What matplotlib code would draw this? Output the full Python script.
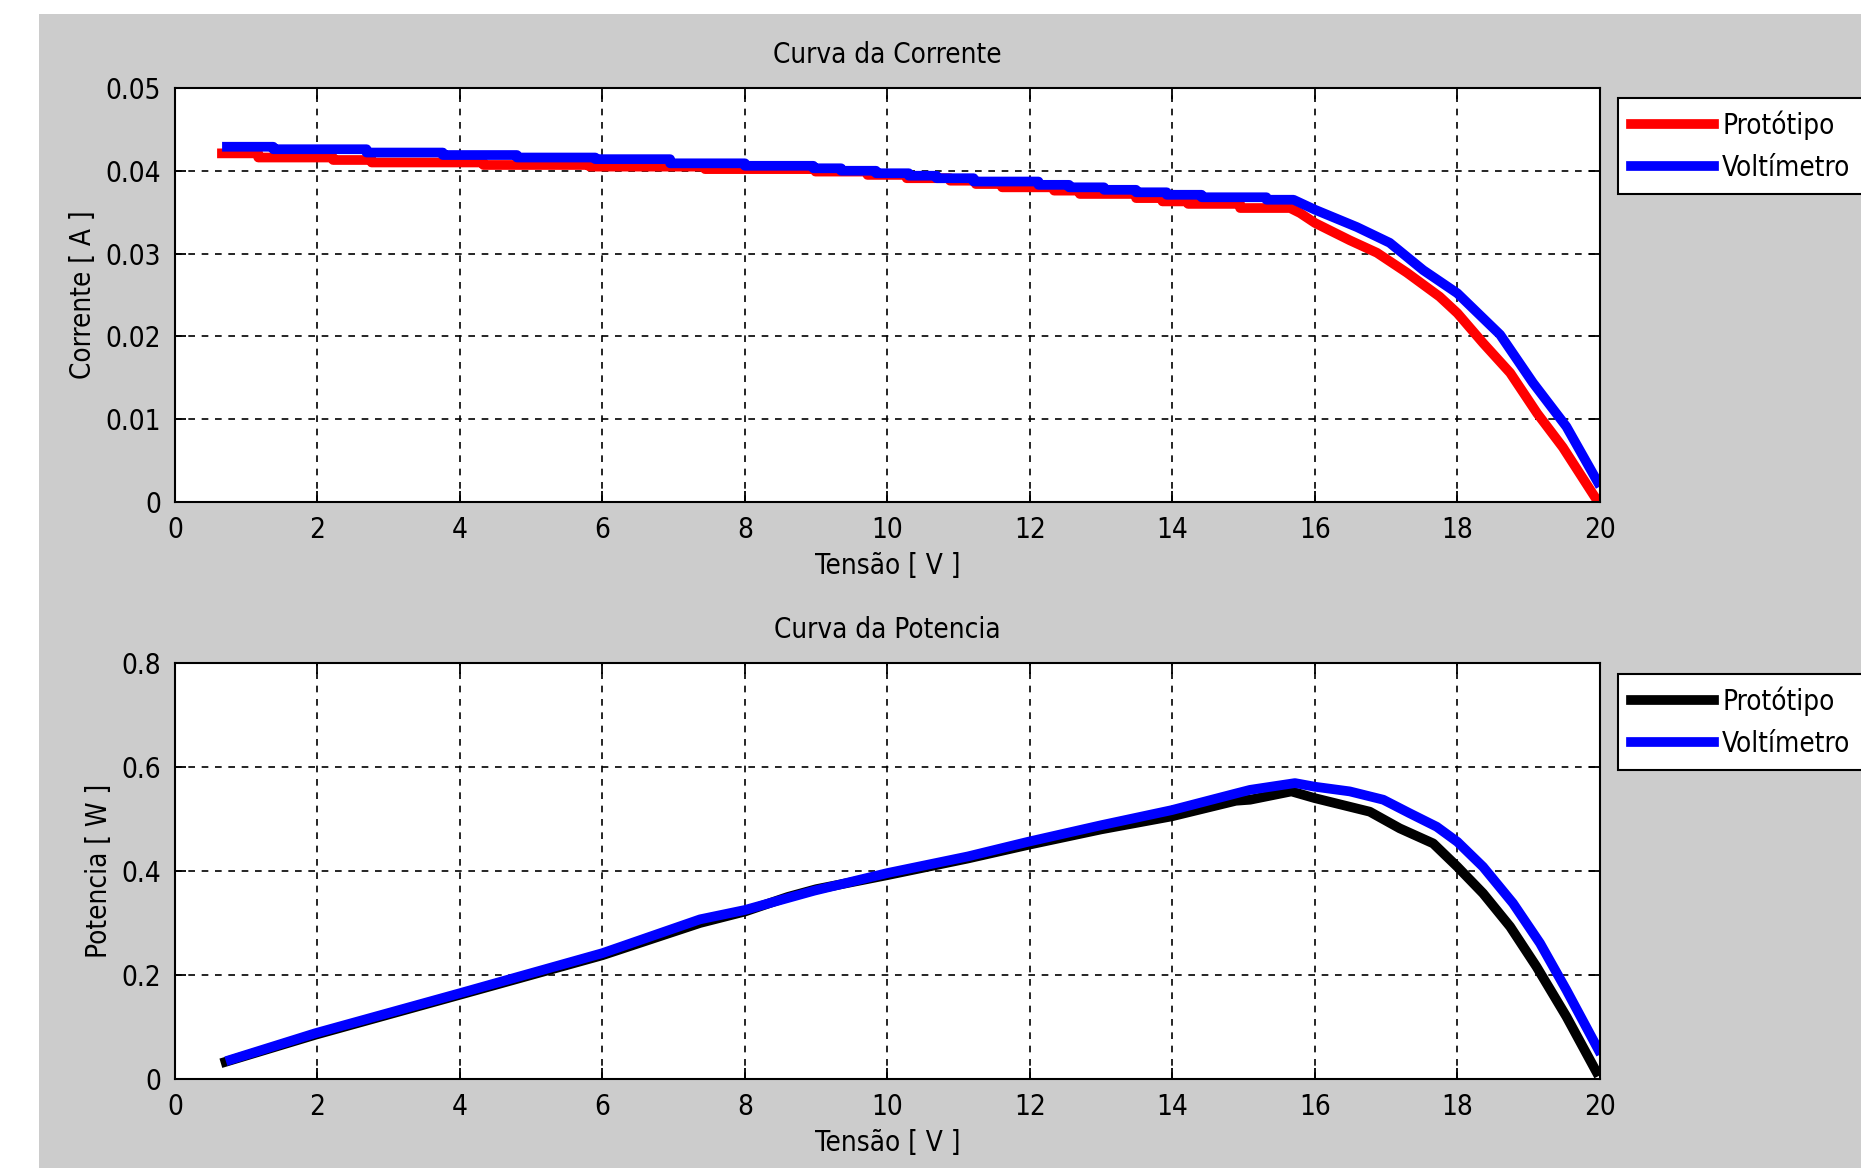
import numpy as np
import matplotlib
matplotlib.use("Agg")
import matplotlib.pyplot as plt
from matplotlib.patches import Rectangle
from matplotlib.ticker import FormatStrFormatter

plt.rcParams["font.family"] = ["Liberation Sans Narrow", "DejaVu Sans"]
plt.rcParams["font.stretch"] = "condensed"
plt.rcParams["font.size"] = 20
plt.rcParams["axes.titlesize"] = "medium"

# --- Corrente: plateau read as steps (edges + levels), then the knee
prot_step_v = [0.66, 1.17, 2.22, 2.76, 4.33, 5.82, 7.44, 8.99, 9.72, 10.27, 10.88,
               11.24, 11.61, 12.34, 12.70, 13.49, 13.86, 14.22, 14.95, 15.65]
prot_step_i = [0.0421, 0.0416, 0.0413, 0.0410, 0.0407, 0.0405, 0.0402, 0.0399, 0.0395,
               0.0391, 0.0388, 0.0384, 0.0380, 0.0376, 0.0372, 0.0367, 0.0363, 0.0360, 0.0355]
prot_knee_v = [15.79, 16.0, 16.49, 16.87, 17.29, 17.75, 18.0, 18.36, 18.74, 19.12, 19.48, 19.96]
prot_knee_i = [0.0349, 0.0337, 0.0316, 0.0301, 0.0277, 0.0248, 0.0228, 0.0192, 0.0156,
               0.0107, 0.0066, 0.0002]

volt_step_v = [0.73, 1.38, 2.69, 3.76, 4.8, 5.9, 6.95, 8.0, 8.96, 9.35, 9.84, 10.30,
               10.69, 11.21, 12.12, 12.55, 13.04, 13.49, 13.92, 14.41, 15.32, 15.7]
volt_step_i = [0.0429, 0.0426, 0.0422, 0.0419, 0.0416, 0.0414, 0.0409, 0.0406, 0.0403,
               0.0400, 0.0397, 0.0394, 0.0391, 0.0387, 0.0383, 0.0380, 0.0377, 0.0374,
               0.0371, 0.0368, 0.0365]
volt_knee_v = [16.0, 16.59, 17.05, 17.52, 18.0, 18.6, 19.06, 19.53, 19.97]
volt_knee_i = [0.0353, 0.0332, 0.0313, 0.0280, 0.0252, 0.0202, 0.0144, 0.0091, 0.0024]

# --- Potencia
prot_pot_v = [0.71, 1.97, 4.0, 6.0, 7.37, 8.0, 8.6, 9.0, 10.0, 11.13, 11.97, 13.0, 13.99,
              14.89, 15.09, 15.67, 16.0, 16.77, 17.19, 17.66, 18.0, 18.36, 18.74, 19.11,
              19.53, 19.95]
prot_pot_p = [0.033, 0.085, 0.162, 0.238, 0.300, 0.322, 0.350, 0.365, 0.392, 0.424, 0.450,
              0.480, 0.505, 0.535, 0.537, 0.553, 0.540, 0.514, 0.482, 0.453, 0.408, 0.357,
              0.293, 0.216, 0.120, 0.014]
volt_pot_v = [0.78, 1.97, 4.0, 6.0, 7.37, 8.0, 8.97, 10.0, 11.13, 11.97, 13.0, 13.99, 14.89,
              15.09, 15.72, 16.0, 16.49, 16.96, 17.33, 17.71, 18.0, 18.36, 18.78, 19.16,
              19.53, 19.98]
volt_pot_p = [0.037, 0.088, 0.165, 0.242, 0.307, 0.325, 0.362, 0.396, 0.428, 0.456, 0.488,
              0.517, 0.549, 0.556, 0.569, 0.562, 0.553, 0.537, 0.511, 0.485, 0.456, 0.408,
              0.338, 0.261, 0.171, 0.056]

labels = ["Protótipo", "Voltímetro"]
x_ticks = np.arange(0, 21, 2)


def stairs(edges, levels):
    xs = np.repeat(edges, 2)[1:-1]
    ys = np.repeat(levels, 2)
    return xs, ys


def style_axes(ax, title, ylabel):
    ax.set_xlim(0, 20)
    ax.set_xticks(x_ticks)
    ax.set_title(title, pad=18)
    ax.set_xlabel("Tensão [ V ]", labelpad=6)
    ax.set_ylabel(ylabel, labelpad=6)
    ax.yaxis.set_major_formatter(FormatStrFormatter("%g"))
    ax.tick_params(direction="in", length=8, width=1.3, top=True, right=True, pad=10)
    ax.grid(True, color="black", linestyle=(0, (4, 4)), linewidth=1.2)
    for s in ax.spines.values():
        s.set_linewidth(1.5)


fig = plt.figure(figsize=(18.61, 11.68), dpi=100, facecolor="white")
fig.patches.append(Rectangle((39 / 1861, 0), 1, 1 - 14 / 1168, transform=fig.transFigure,
                             facecolor="#cccccc", edgecolor="none", zorder=-10))

ax1 = fig.add_axes([0.0940, 0.5702, 0.7657, 0.3545])
x, y = stairs(prot_step_v, prot_step_i)
ax1.plot(np.concatenate([x, prot_knee_v]), np.concatenate([y, prot_knee_i]),
         color="red", lw=7, label=labels[0])
x, y = stairs(volt_step_v, volt_step_i)
ax1.plot(np.concatenate([x, volt_knee_v]), np.concatenate([y, volt_knee_i]),
         color="blue", lw=7, label=labels[1])
ax1.set_ylim(0, 0.05)
ax1.set_yticks(np.arange(0, 0.051, 0.01))
style_axes(ax1, "Curva da Corrente", "Corrente [ A ]")

ax2 = fig.add_axes([0.0940, 0.0762, 0.7657, 0.3562])
ax2.plot(prot_pot_v, prot_pot_p, color="black", lw=7, label=labels[0])
ax2.plot(volt_pot_v, volt_pot_p, color="blue", lw=7, label=labels[1])
ax2.set_ylim(0, 0.8)
ax2.set_yticks(np.arange(0, 0.81, 0.2))
style_axes(ax2, "Curva da Potencia", "Potencia [ W ]")

for ax, top in [(ax1, 98), (ax2, 674)]:
    leg = ax.legend(loc="upper left", bbox_to_anchor=(1618 / 1861, 1 - top / 1168),
                    bbox_transform=fig.transFigure, borderaxespad=0, fancybox=False,
                    edgecolor="black", framealpha=1, handlelength=3.0, handletextpad=0.3,
                    labelspacing=0.5, borderpad=0.45)
    leg.get_frame().set_linewidth(1.5)

fig.savefig("out.png", dpi=100, facecolor=fig.get_facecolor())
